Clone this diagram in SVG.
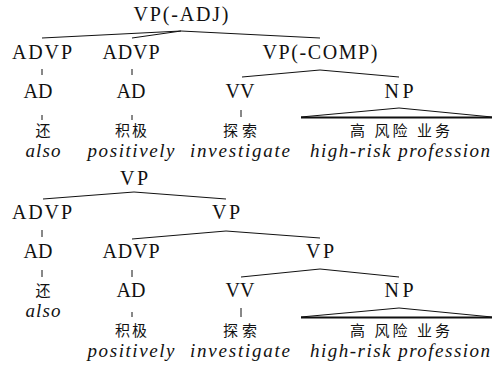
<svg xmlns="http://www.w3.org/2000/svg" width="492" height="367" viewBox="0 0 492 367">
<style>
.l{font-size:20px;fill:#111;text-anchor:middle}
.c{font-size:15px;fill:#111;text-anchor:middle}
.i{font-style:italic;font-size:19px;fill:#111;text-anchor:middle}
.e{stroke:#111;stroke-width:1;fill:none}
.b{stroke:#111;stroke-width:2;fill:none}
</style>
<rect width="492" height="367" fill="#fff"/>
<g id="t1-VP-ADJ"><text class="l" font-family="Liberation Serif" x="181" y="21" textLength="95" lengthAdjust="spacing">VP(-ADJ)</text></g>
<g id="t1-ADVP1"><text class="l" font-family="Liberation Serif" x="42" y="59" textLength="60" lengthAdjust="spacing">ADVP</text></g>
<g id="t1-ADVP2"><text class="l" font-family="Liberation Serif" x="131" y="59" textLength="57" lengthAdjust="spacing">ADVP</text></g>
<g id="t1-VP-COMP"><text class="l" font-family="Liberation Serif" x="320" y="59" textLength="115" lengthAdjust="spacing">VP(-COMP)</text></g>
<g id="t1-AD1"><text class="l" font-family="Liberation Serif" x="38" y="98">AD</text></g>
<g id="t1-AD2"><text class="l" font-family="Liberation Serif" x="131" y="98">AD</text></g>
<g id="t1-VV"><text class="l" font-family="Liberation Serif" x="240" y="98">VV</text></g>
<g id="t1-NP"><text class="l" font-family="Liberation Serif" x="399" y="98" textLength="29" lengthAdjust="spacing">NP</text></g>
<g id="t1-w1"><text class="c" font-family="Noto Sans CJK SC" x="43" y="136">还</text><text class="i" font-family="Liberation Serif" x="43" y="157" textLength="35" lengthAdjust="spacing">also</text></g>
<g id="t1-w2"><text class="c" font-family="Noto Sans CJK SC" x="131" y="136" textLength="32">积极</text><text class="i" font-family="Liberation Serif" x="131" y="157" textLength="87" lengthAdjust="spacing">positively</text></g>
<g id="t1-w3"><text class="c" font-family="Noto Sans CJK SC" x="240" y="136" textLength="34">探索</text><text class="i" font-family="Liberation Serif" x="240" y="157" textLength="100" lengthAdjust="spacing">investigate</text></g>
<g id="t1-w4"><text class="c" font-family="Noto Sans CJK SC" x="400" y="136" textLength="100">高 风险 业务</text><text class="i" font-family="Liberation Serif" x="400" y="157" textLength="180" lengthAdjust="spacing">high-risk profession</text></g>

<g id="t2-VP"><text class="l" font-family="Liberation Serif" x="134" y="185" textLength="28" lengthAdjust="spacing">VP</text></g>
<g id="t2-ADVP1"><text class="l" font-family="Liberation Serif" x="42" y="219" textLength="60" lengthAdjust="spacing">ADVP</text></g>
<g id="t2-VP2"><text class="l" font-family="Liberation Serif" x="226" y="219" textLength="28" lengthAdjust="spacing">VP</text></g>
<g id="t2-AD1"><text class="l" font-family="Liberation Serif" x="38" y="258">AD</text></g>
<g id="t2-ADVP2"><text class="l" font-family="Liberation Serif" x="131" y="258" textLength="57" lengthAdjust="spacing">ADVP</text></g>
<g id="t2-VP3"><text class="l" font-family="Liberation Serif" x="320" y="258" textLength="28" lengthAdjust="spacing">VP</text></g>
<g id="t2-AD2"><text class="l" font-family="Liberation Serif" x="131" y="297">AD</text></g>
<g id="t2-VV"><text class="l" font-family="Liberation Serif" x="240" y="297">VV</text></g>
<g id="t2-NP"><text class="l" font-family="Liberation Serif" x="399" y="297" textLength="29" lengthAdjust="spacing">NP</text></g>
<g id="t2-w1"><text class="c" font-family="Noto Sans CJK SC" x="43" y="296">还</text><text class="i" font-family="Liberation Serif" x="43" y="317" textLength="35" lengthAdjust="spacing">also</text></g>
<g id="t2-w2"><text class="c" font-family="Noto Sans CJK SC" x="131" y="336" textLength="32">积极</text><text class="i" font-family="Liberation Serif" x="131" y="357" textLength="87" lengthAdjust="spacing">positively</text></g>
<g id="t2-w3"><text class="c" font-family="Noto Sans CJK SC" x="240" y="336" textLength="34">探索</text><text class="i" font-family="Liberation Serif" x="240" y="357" textLength="100" lengthAdjust="spacing">investigate</text></g>
<g id="t2-w4"><text class="c" font-family="Noto Sans CJK SC" x="400" y="336" textLength="100">高 风险 业务</text><text class="i" font-family="Liberation Serif" x="400" y="357" textLength="180" lengthAdjust="spacing">high-risk profession</text></g>

<g id="connectors">
<path class="e" d="M181,31L42,38M181,31L132,38M181,31L320,38"/>
<path class="e" d="M42,69V75M42,115V120M132,69V75M132,115V120M241,110V117"/>
<path class="e" d="M320,70L242,77M320,70L399,77"/>
<path class="e" d="M301,117L399,108L492,117"/>
<path class="b" d="M301,117.5H492"/>
<path class="e" d="M134,192L43,199M134,192L226,199"/>
<path class="e" d="M42,230V237M42,270V277"/>
<path class="e" d="M226,231L132,239M226,231L320,238"/>
<path class="e" d="M132,270V277M132,312V317"/>
<path class="e" d="M320,269L241,277M320,269L399,277"/>
<path class="e" d="M241,308V317"/>
<path class="e" d="M301,317L399,308L492,317"/>
<path class="b" d="M301,317.5H492"/>
</g>
</svg>
